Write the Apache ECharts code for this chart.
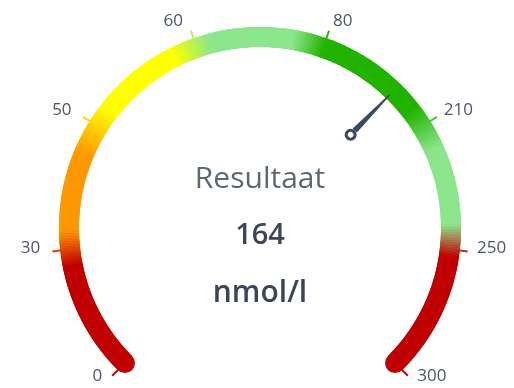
<!DOCTYPE html>
<html>
<head>
<meta charset="utf-8">
<script src="https://cdn.jsdelivr.net/npm/echarts@6/dist/echarts.min.js"></script>
<style>
html,body{margin:0;padding:0;background:#fff;}
#chart{width:514px;height:388px;}
</style>
</head>
<body>
<div id="chart"></div>
<script>
// ---- data ----
const tickValues = [0, 30, 50, 60, 80, 210, 250, 300];
const tickLabels = ['0', '30', '50', '60', '80', '210', '250', '300'];
const resultValue = 164;
const resultTitle = 'Resultaat';
const resultUnit = 'nmol/l';

// ---- styles ----
// colour bands along the dial, in tick-index units (0..7)
const bandStops = [
  [0.00, '#c00000'], [0.87, '#c00000'],
  [1.14, '#ff9900'], [1.75, '#ff9900'],
  [2.15, '#ffff00'], [2.80, '#ffff00'],
  [3.10, '#8ce68c'], [3.75, '#8ce68c'],
  [4.00, '#22b300'], [4.85, '#22b300'],
  [5.20, '#8ce68c'], [5.80, '#8ce68c'],
  [6.05, '#c00000'], [7.00, '#c00000']
];
const labelFont = 'Open Sans';
const labelColor = '#4d5567';
// per-label text padding (top,right,bottom,left) to sit labels outside the ticks
const labelPads = [
  [0, 0, 92, 27],
  [0, 0, 22, 34],
  [57, 0, 0, 25],
  [44, 0, 0, 8],
  [44, 16, 0, 0],
  [57, 20, 0, 0],
  [0, 27, 22, 0],
  [0, 8, 92, 0]
];

function hexToRgb(h){ return [parseInt(h.substr(1,2),16), parseInt(h.substr(3,2),16), parseInt(h.substr(5,2),16)]; }
function colorAt(p){
  for (let i = 0; i < bandStops.length - 1; i++) {
    const a = bandStops[i], b = bandStops[i+1];
    if (p >= a[0] && p <= b[0]) {
      const t = b[0] === a[0] ? 0 : (p - a[0]) / (b[0] - a[0]);
      const ca = hexToRgb(a[1]), cb = hexToRgb(b[1]);
      const c = ca.map((v, k) => Math.round(v + (cb[k] - v) * t));
      return 'rgb(' + c.join(',') + ')';
    }
  }
  return bandStops[bandStops.length-1][1];
}
const nSeg = tickValues.length - 1;
const steps = nSeg * 80;
const axisColors = [];
for (let j = 0; j < steps; j++) {
  const mid = (j + 0.5) / steps * nSeg;
  axisColors.push([(j + 1) / steps, colorAt(mid)]);
}
// a coarser version for the rounded under-layer
const capSteps = nSeg * 20;
const capColors = [];
for (let j = 0; j < capSteps; j++) {
  const mid = (j + 0.5) / capSteps * nSeg;
  capColors.push([(j + 1) / capSteps, colorAt(mid)]);
}

// map the result onto the evenly spaced tick scale
function toIndexScale(v){
  for (let k = 0; k < tickValues.length - 1; k++) {
    if (v >= tickValues[k] && v <= tickValues[k+1]) {
      return k + (v - tickValues[k]) / (tickValues[k+1] - tickValues[k]);
    }
  }
  return v < tickValues[0] ? 0 : nSeg;
}

const rich = {};
labelPads.forEach((p, i) => {
  rich['l' + i] = { padding: p, fontFamily: labelFont, fontSize: 17, color: labelColor };
});

const common = {
  type: 'gauge',
  center: [260, 228],
  radius: 201,
  startAngle: 225,
  endAngle: -45,
  min: 0,
  max: nSeg,
  splitNumber: nSeg
};

const chart = echarts.init(document.getElementById('chart'), null, {renderer: 'canvas'});
chart.setOption({
  animation: false,
  backgroundColor: '#ffffff',
  series: [
    // rounded band underneath (gives the round end caps and fills seams)
    Object.assign({}, common, {
      z: 1,
      axisLine: { roundCap: true, lineStyle: { width: 20, color: capColors } },
      splitLine: { show: false }, axisTick: { show: false }, axisLabel: { show: false },
      pointer: { show: false }, anchor: { show: false }, title: { show: false }, detail: { show: false },
      data: []
    }),
    Object.assign({}, common, {
      z: 2,
      axisLine: { roundCap: false, lineStyle: { width: 20, color: axisColors } },
      splitLine: { show: true, length: 8, distance: -28, lineStyle: { color: 'auto', width: 2 } },
      axisTick: { show: false },
      axisLabel: {
        show: true,
        distance: -54,
        fontFamily: labelFont,
        fontSize: 17,
        color: labelColor,
        formatter: function (v) { const i = Math.round(v); return '{l' + i + '|' + tickLabels[i] + '}'; },
        rich: rich
      },
      pointer: {
        show: true,
        icon: 'path://M3,50 L5.3,0 L6.7,0 L9,50 Z M0,56 A6,6 0 1,1 12,56 A6,6 0 1,1 0,56 Z M3.2,56 A2.8,2.8 0 1,0 8.8,56 A2.8,2.8 0 1,0 3.2,56 Z',
        length: 62,
        width: 12,
        offsetCenter: [0, -124],
        keepAspect: false,
        itemStyle: { color: '#3b4a5e' }
      },
      anchor: { show: false },
      title: { show: false },
      detail: {
        show: true,
        offsetCenter: [0, 8],
        formatter: function () {
          return '{a|' + resultTitle + '}\n{b|' + resultValue + '}\n{c|' + resultUnit + '}';
        },
        rich: {
          a: { fontFamily: labelFont, fontSize: 30, fontWeight: 400, color: '#5d6678', lineHeight: 57 },
          b: { fontFamily: labelFont, fontSize: 29, fontWeight: 600, color: '#3c4556', lineHeight: 57 },
          c: { fontFamily: labelFont, fontSize: 30, fontWeight: 600, color: '#3c4556', lineHeight: 57 }
        }
      },
      data: [{ value: toIndexScale(resultValue) }]
    })
  ]
});
</script>
</body>
</html>
